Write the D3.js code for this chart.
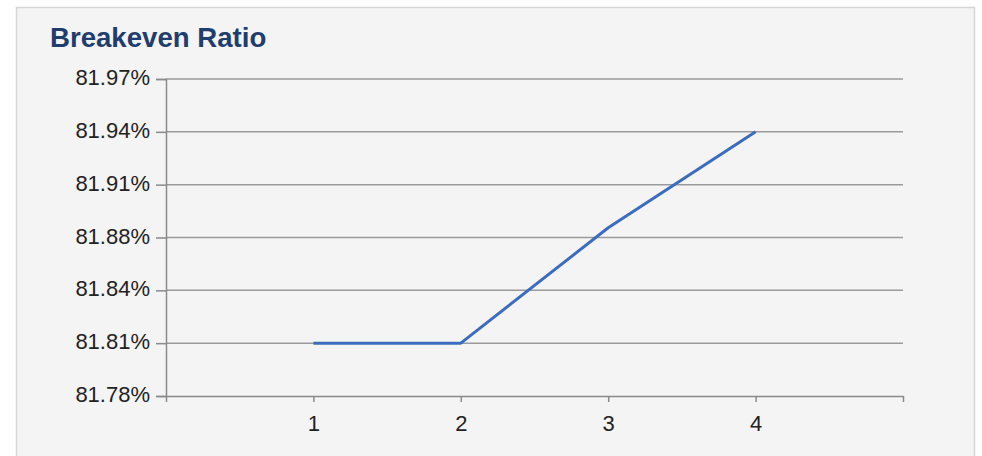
<!DOCTYPE html>
<html><head><meta charset="utf-8">
<script src="https://cdn.jsdelivr.net/npm/d3@7"></script>
<style>html,body{margin:0;padding:0;background:#fff;}svg{display:block;font-family:"Liberation Sans",Arial,sans-serif;}</style>
</head><body>
<svg id="c" width="982" height="456"></svg>
<script>
const title = "Breakeven Ratio";
const categories = [1, 2, 3, 4];
const values = [81.81, 81.81, 81.881, 81.94];
const yTickValues = [81.7775, 81.81, 81.8425, 81.875, 81.9075, 81.94, 81.9725];
const yTickLabels = ["81.78%", "81.81%", "81.84%", "81.88%", "81.91%", "81.94%", "81.97%"];
const xDomain = [0, 5];
const xTickValues = [0, 1, 2, 3, 4, 5];

const svg = d3.select("#c");
svg.append("rect").attr("x", 16.5).attr("y", 7.5).attr("width", 958).attr("height", 460)
  .attr("fill", "#f4f4f4").attr("stroke", "#d6d6d6").attr("stroke-width", 1.5);

svg.append("text").attr("x", 50).attr("y", 46.5).text(title)
  .attr("font-size", 27.6).attr("font-weight", "bold").attr("fill", "#1f3d6e");

const L = 166, R = 903, T = 79, B = 396;
const x = d3.scaleLinear().domain(xDomain).range([L, R]);
const y = d3.scaleLinear().domain([yTickValues[0], yTickValues[yTickValues.length - 1]]).range([B, T]);

const g = svg.append("g");
// gridlines
g.selectAll("line.grid").data(yTickValues.slice(1)).join("line")
  .attr("x1", L).attr("x2", R).attr("y1", d => y(d)).attr("y2", d => y(d))
  .attr("stroke", "#9a9a9a").attr("stroke-width", 1.5);

// y axis
const yAxis = d3.axisLeft(y).tickValues(yTickValues).tickSize(10).tickPadding(6)
  .tickFormat((d, i) => yTickLabels[i]);
const ya = g.append("g").attr("transform", `translate(${L},0)`).call(yAxis);
ya.select(".domain").attr("stroke", "#8a8a8a").attr("stroke-width", 1.5);
ya.selectAll(".tick line").attr("stroke", "#8a8a8a").attr("stroke-width", 1.5);
ya.selectAll(".tick text").attr("font-size", 22).attr("fill", "#222").attr("font-family", "Liberation Sans, Arial, sans-serif").attr("dy", "0.25em");

// x axis
const xAxis = d3.axisBottom(x).tickValues(xTickValues).tickSize(6).tickSizeOuter(0).tickPadding(13)
  .tickFormat(d => categories.includes(d) ? String(d) : "");
const xa = g.append("g").attr("transform", `translate(0,${B})`).call(xAxis);
xa.select(".domain").attr("stroke", "#8a8a8a").attr("stroke-width", 1.5);
xa.selectAll(".tick line").attr("stroke", "#8a8a8a").attr("stroke-width", 1.5);
xa.selectAll(".tick text").attr("font-size", 22).attr("fill", "#222").attr("font-family", "Liberation Sans, Arial, sans-serif");

// line
const line = d3.line().x((d, i) => x(categories[i])).y(d => y(d));
g.append("path").datum(values).attr("d", line).attr("fill", "none")
  .attr("stroke", "#3b6cbf").attr("stroke-width", 3).attr("stroke-linejoin", "round");
</script>
</body></html>
